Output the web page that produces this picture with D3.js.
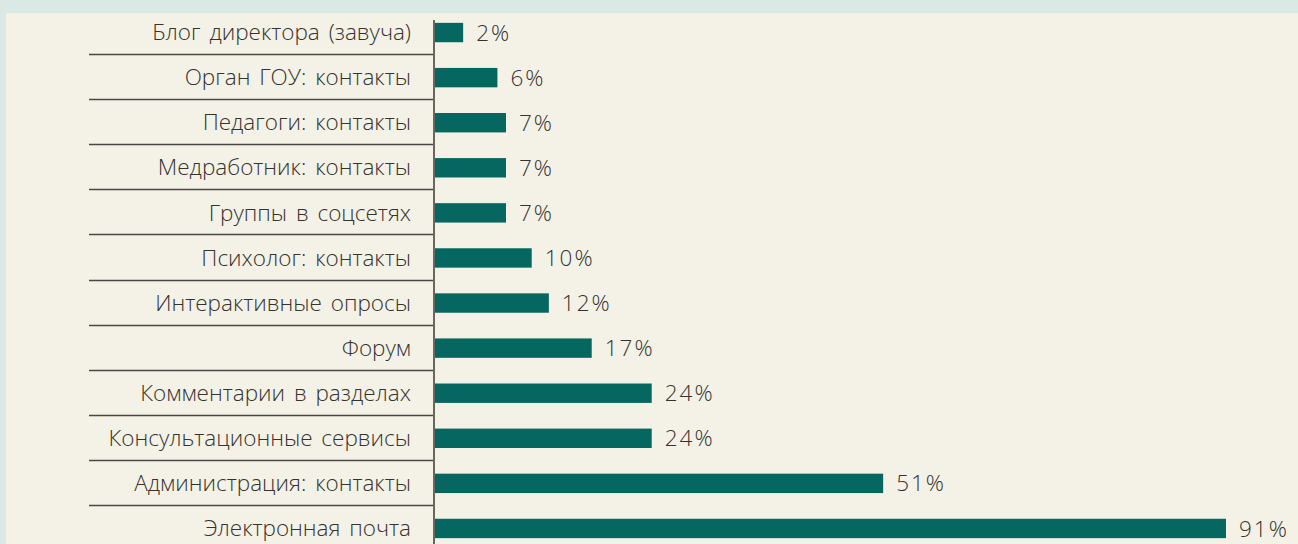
<!DOCTYPE html>
<html><head><meta charset="utf-8">
<script src="https://cdn.jsdelivr.net/npm/d3@7"></script>
<style>html,body{margin:0;padding:0;background:#dbe9e5;}svg{display:block;}</style>
</head><body>
<svg id="chart" width="1298" height="544"></svg>
<script>
const categories = [
  "Блог директора (завуча)",
  "Орган ГОУ: контакты",
  "Педагоги: контакты",
  "Медработник: контакты",
  "Группы в соцсетях",
  "Психолог: контакты",
  "Интерактивные опросы",
  "Форум",
  "Комментарии в разделах",
  "Консультационные сервисы",
  "Администрация: контакты",
  "Электронная почта"
];
const values = [2, 6, 7, 7, 7, 10, 12, 17, 24, 24, 51, 91];
const valueLabels = ["2%", "6%", "7%", "7%", "7%", "10%", "12%", "17%", "24%", "24%", "51%", "91%"];

const svg = d3.select("#chart");
const W = 1298, H = 544;
const axisX = 434;

svg.append("rect").attr("x", 0).attr("y", 0).attr("width", W).attr("height", H).attr("fill", "#dbe9e5");
svg.append("rect").attr("x", 6).attr("y", 13).attr("width", W - 6).attr("height", H - 13).attr("fill", "#f4f2e6");

const y = d3.scaleBand().domain(categories).range([10, 551]).paddingInner(0.57).paddingOuter(0.285);
const x = d3.scaleLinear().domain([0, 91]).range([446, 1226]);

const data = categories.map((c, i) => ({c, v: values[i], l: valueLabels[i]}));

// separators
const step = y.step();
svg.append("g").selectAll("line").data(categories.slice(0, -1)).join("line")
  .attr("x1", 89).attr("x2", axisX)
  .attr("y1", d => Math.round(y(d) - y.padding() * step / 2 + step) + 0.5 - 1)
  .attr("y2", d => Math.round(y(d) - y.padding() * step / 2 + step) + 0.5 - 1)
  .attr("stroke", "#4a4744").attr("stroke-width", 1.3);

// bars
svg.append("g").selectAll("rect").data(data).join("rect")
  .attr("x", axisX + 1)
  .attr("y", d => y(d.c))
  .attr("width", d => x(d.v) - axisX - 1)
  .attr("height", y.bandwidth())
  .attr("fill", "#05675f");

// axis line
svg.append("line").attr("x1", axisX).attr("x2", axisX).attr("y1", 20).attr("y2", H)
  .attr("stroke", "#6b6660").attr("stroke-width", 2);

// category labels
svg.append("g").selectAll("text").data(data).join("text")
  .attr("x", 411).attr("y", d => y(d.c) + y.bandwidth() / 2)
  .attr("dy", "0.34em")
  .attr("text-anchor", "end")
  .attr("font-family", "'Open Sans', sans-serif").attr("font-size", 22.5).attr("font-weight", 300)
  .attr("word-spacing", 3)
  .attr("fill", "#35332f")
  .text(d => d.c);

// value labels
svg.append("g").selectAll("text").data(data).join("text")
  .attr("x", d => x(d.v) + 13).attr("y", d => y(d.c) + y.bandwidth() / 2)
  .attr("dy", "0.36em")
  .attr("font-family", "'Open Sans', sans-serif").attr("font-size", 22.5).attr("font-weight", 300)
  .attr("letter-spacing", 2)
  .attr("fill", "#35332f")
  .text(d => d.l);
</script>
</body></html>
